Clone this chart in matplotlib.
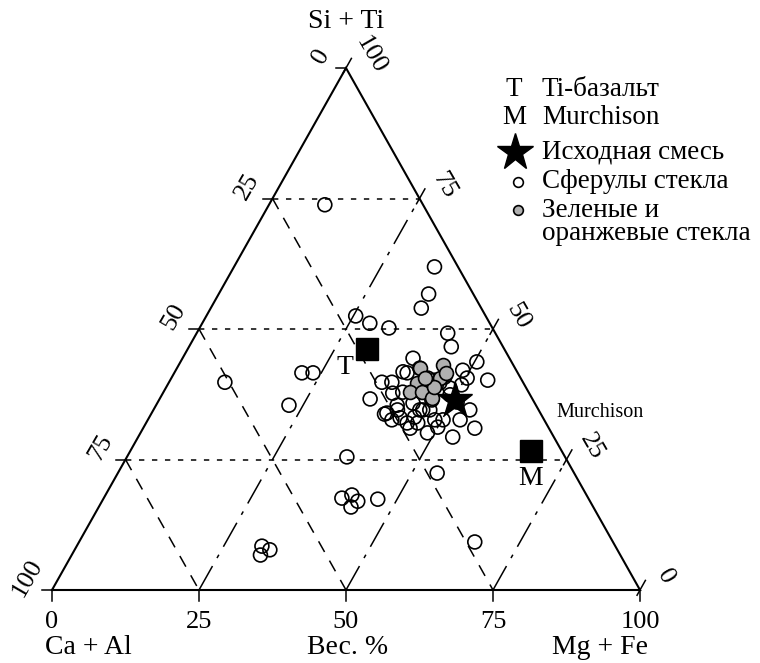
import matplotlib
matplotlib.use('Agg')
import matplotlib.pyplot as plt
import numpy as np

plt.rcParams['font.family'] = ['Liberation Serif', 'DejaVu Serif']

# ---- data: compositions in wt.%  (Si+Ti, Mg+Fe);  Ca+Al = 100 - (Si+Ti) - (Mg+Fe)
spherule_si = [73.8, 61.9, 56.7, 54.0, 52.5, 51.1, 50.2, 49.2, 46.6, 44.4,
               43.7, 40.2, 39.8, 39.8, 36.6, 41.8, 41.6, 42.5, 42.1, 40.6,
               39.3, 34.5, 31.0, 29.3, 30.1, 31.0, 33.9, 34.5, 33.0, 33.1,
               34.5, 32.6, 32.6, 32.6, 36.4, 34.5, 38.3, 40.8, 39.7, 38.7,
               40.2, 40.6, 37.4, 36.0, 37.7, 37.9, 35.4, 35.8, 34.5, 31.2,
               32.0, 32.0, 32.6, 41.6, 41.6, 39.8, 35.4, 33.7, 25.5, 17.6,
               18.2, 17.0, 15.9, 17.4, 22.4, 9.2, 8.4, 7.7, 6.7]
spherule_mg = [9.5, 34.1, 35.7, 35.8, 25.4, 28.5, 32.2, 42.7, 44.6, 39.2,
               50.4, 54.0, 36.2, 37.9, 35.8, 38.8, 39.6, 41.3, 48.8, 50.3,
               50.0, 53.8, 56.4, 53.5, 48.8, 45.4, 40.0, 41.5, 42.7, 45.1,
               45.8, 48.8, 50.2, 53.1, 46.4, 47.0, 43.7, 46.4, 46.1, 48.3,
               45.0, 43.6, 49.0, 50.9, 39.1, 40.7, 41.0, 43.5, 45.3, 50.0,
               46.2, 44.4, 41.5, 21.7, 23.6, 9.5, 22.6, 39.7, 37.4, 40.5,
               41.9, 43.5, 42.9, 46.7, 54.3, 67.3, 31.5, 33.2, 32.1]
green_si = [43.1, 42.5, 39.7, 37.9, 37.9, 36.8, 40.6, 41.6, 38.9, 40.6]
green_mg = [44.9, 41.3, 42.2, 41.9, 43.9, 46.2, 45.7, 46.2, 45.6, 43.1]
ti_basalt = (46.2, 30.5)
murchison = (26.6, 68.2)
start_mix = (36.4, 50.3)
tick_values = [0, 25, 50, 75, 100]
grid_values = [25, 50, 75]

legend_labels = ['Ti-базальт', 'Murchison', 'Исходная смесь', 'Сферулы стекла',
                 'Зеленые и\nоранжевые стекла']


def tern(si, mg):
    si = np.asarray(si, float)
    mg = np.asarray(mg, float)
    return mg / 100 + si / 200, si / 100


W, H = 760, 663
fig = plt.figure(figsize=(7.6, 6.63), dpi=100)
ax = fig.add_axes([0, 0, 1, 1])
x0, x1, ytop, ybot = 52, 640, 68, 590
sx, sy = x1 - x0, ybot - ytop
ax.set_xlim(-x0 / sx, (W - x0) / sx)
ax.set_ylim((ybot - H) / sy, ybot / sy)
ax.axis('off')

lw_edge = 1.5
# outer triangle
tx, ty = tern([0, 0, 100, 0], [0, 100, 0, 0])
ax.plot(tx, ty, color='black', lw=lw_edge, solid_joinstyle='miter')

# dotted: constant Si+Ti
for v in grid_values:
    gx, gy = tern([v, v], [0, 100 - v])
    ax.plot(gx, gy, color='black', lw=1.1, dashes=(3.5, 5))
# dashed: constant Ca+Al
for c in grid_values:
    gx, gy = tern([100 - c, 0], [0, 100 - c])
    ax.plot(gx, gy, color='black', lw=1.1, dashes=(8, 6.5))
# dash-dot: constant Mg+Fe
for m in grid_values:
    gx, gy = tern([0, 100 - m], [m, m])
    ax.plot(gx, gy, color='black', lw=1.1, dashes=(18, 6, 2.5, 6))

# ticks
d_up = np.array([294.0, 522.0]); d_up /= np.hypot(*d_up)
for t in tick_values:
    px, py = tern(0, t)
    ax.plot([px, px], [py, py - 11 / sy], color='black', lw=1.1)
    px, py = tern(100 - t, 0)
    ax.plot([px - 10 / sx, px], [py, py], color='black', lw=1.1)
    px, py = tern(t, 100 - t)
    ax.plot([px - 6 * d_up[0] / sx, px + 11 * d_up[0] / sx],
            [py - 6 * d_up[1] / sy, py + 11 * d_up[1] / sy], color='black', lw=1.1)

tick_fs = 19
for t in tick_values:
    ax.annotate(str(t), xy=tern(0, t), xytext=(0, -32), textcoords='offset pixels',
                ha='center', va='center', fontsize=tick_fs)
    ax.annotate(str(t), xy=tern(100 - t, 0), xytext=(-25, 12), textcoords='offset pixels',
                ha='center', va='center', fontsize=tick_fs, rotation=60, rotation_mode='anchor')
    ax.annotate(str(t), xy=tern(t, 100 - t), xytext=(25, 13), textcoords='offset pixels',
                ha='center', va='center', fontsize=tick_fs, rotation=-60, rotation_mode='anchor')

# data points
sxp, syp = tern(spherule_si, spherule_mg)
ax.scatter(sxp, syp, s=100, facecolors='none', edgecolors='black', linewidths=1.2, zorder=3)
gxp, gyp = tern(green_si, green_mg)
ax.scatter(gxp, gyp, s=100, facecolors='#b0b0b0', edgecolors='black', linewidths=1.2, zorder=4)
for comp in (ti_basalt, murchison):
    px, py = tern(*comp)
    ax.plot(px, py, marker='s', markersize=15.5, color='black', zorder=5)
px, py = tern(*start_mix)
ax.plot(px, py, marker='*', markersize=26, color='black', zorder=6)

ax.annotate('T', xy=tern(*ti_basalt), xytext=(-22, -19), textcoords='offset pixels',
            ha='center', va='center', fontsize=20)
ax.annotate('M', xy=tern(*murchison), xytext=(-1, -27), textcoords='offset pixels',
            ha='center', va='center', fontsize=20)
ax.annotate('Murchison', xy=tern(*murchison), xytext=(69, 39), textcoords='offset pixels',
            ha='center', va='center', fontsize=14.5)

# axis titles
def ftext(x, y, s, **kw):
    fig.text(x / W, 1 - y / H, s, ha='center', va='center', **kw)

ftext(346, 22, 'Si + Ti', fontsize=20)
ftext(88, 647, 'Ca + Al', fontsize=20)
ftext(348, 647, 'Вес. %', fontsize=20)
ftext(600, 647, 'Mg + Fe', fontsize=20)

# legend (manual)
leg_fs = 19.5
rows_y = [90, 117, 152, 182, 222]
ftext(514, rows_y[0], 'T', fontsize=leg_fs)
ftext(514, rows_y[1], 'M', fontsize=leg_fs)
ax.plot([515 / W], [1 - rows_y[2] / H], marker='*', markersize=28, color='black',
        transform=fig.transFigure, clip_on=False)
ax.plot([518 / W], [1 - rows_y[3] / H], marker='o', markersize=7, mfc='none', mec='black',
        mew=1.2, transform=fig.transFigure, clip_on=False)
ax.plot([518 / W], [1 - 210 / H], marker='o', markersize=7, mfc='#b0b0b0', mec='black',
        mew=1.2, transform=fig.transFigure, clip_on=False)
for lab, yy in zip(legend_labels, rows_y):
    fig.text(542 / W, 1 - yy / H, lab, ha='left', va='center', fontsize=leg_fs,
             linespacing=0.9)

fig.savefig('out.png', dpi=100)
